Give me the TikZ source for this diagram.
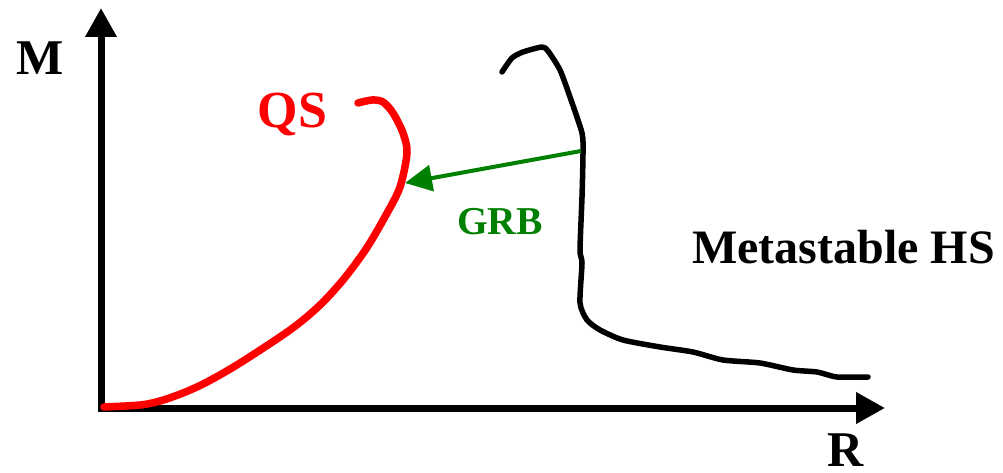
\documentclass[tikz,border=0pt]{standalone}
\usepackage{fontspec}
\setmainfont{Liberation Serif}
\usetikzlibrary{arrows.meta}
\definecolor{grbgreen}{RGB}{0,128,0}
\definecolor{qsred}{RGB}{255,0,0}
\tikzset{
  axis/.style={line width=7pt,-{Triangle[length=29pt,width=30pt]}},
  lbl/.style={font=\bfseries\fontsize{50}{50}\selectfont,anchor=base,inner sep=0pt},
  qscurve/.style={qsred,line width=7.5pt,line join=round,line cap=round},
  hscurve/.style={black,line width=5.5pt,line join=round,line cap=round},
  grbarrow/.style={grbgreen,line width=4pt,-{Triangle[length=27pt,width=26pt]}}
}
\begin{document}
\begin{tikzpicture}[x=1pt,y=-1pt]
\useasboundingbox (0,0) rectangle (1003,473);
\coordinate (o) at (101,408);
\coordinate (ytip) at (101,8);
\coordinate (xtip) at (885,408);
\draw[axis] (101,411.5) -- (ytip);
\draw[axis] (97.5,408) -- (xtip);
\node[lbl] (M) at (40,75) {M};
\node[lbl] (R) at (846,466) {R};
\node[lbl,qsred,font=\bfseries\fontsize{52}{52}\selectfont] (QS) at (292.5,128) {QS};
\node[lbl,font=\bfseries\fontsize{48}{48}\selectfont] (HS) at (843.5,263) {Metastable HS};
\node[lbl,grbgreen,font=\bfseries\fontsize{39.5}{39.5}\selectfont] (GRB) at (500,234) {GRB};
% QS curve
\draw[qscurve] plot[smooth,tension=0.5] coordinates {
 (104,407) (140,405) (160,401) (183,393) (207,382) (240,363) (290,330) (319,306)
 (343,280) (366,249) (386,215) (400,187) (407,153) (403,133) (393,113) (383,102) (372,100) (358,103)};
% Metastable HS curve
\draw[hscurve] plot[smooth,tension=0.4] coordinates {
 (502,72) (512,58) (523,52) (542,47) (548,51) (560,70) (570,97) (582,133) (583,153)
 (582,197) (580,250) (582,263) (580,303) (587,320) (600,330) (623,340) (660,347)
 (693,352) (723,360) (760,363) (793,370) (817,372) (837,377) (868,377)};
\coordinate (grbstart) at (581,151);
\coordinate (grbend) at (405,183);
\draw[grbarrow] (grbstart) -- (grbend);
\end{tikzpicture}
\end{document}
